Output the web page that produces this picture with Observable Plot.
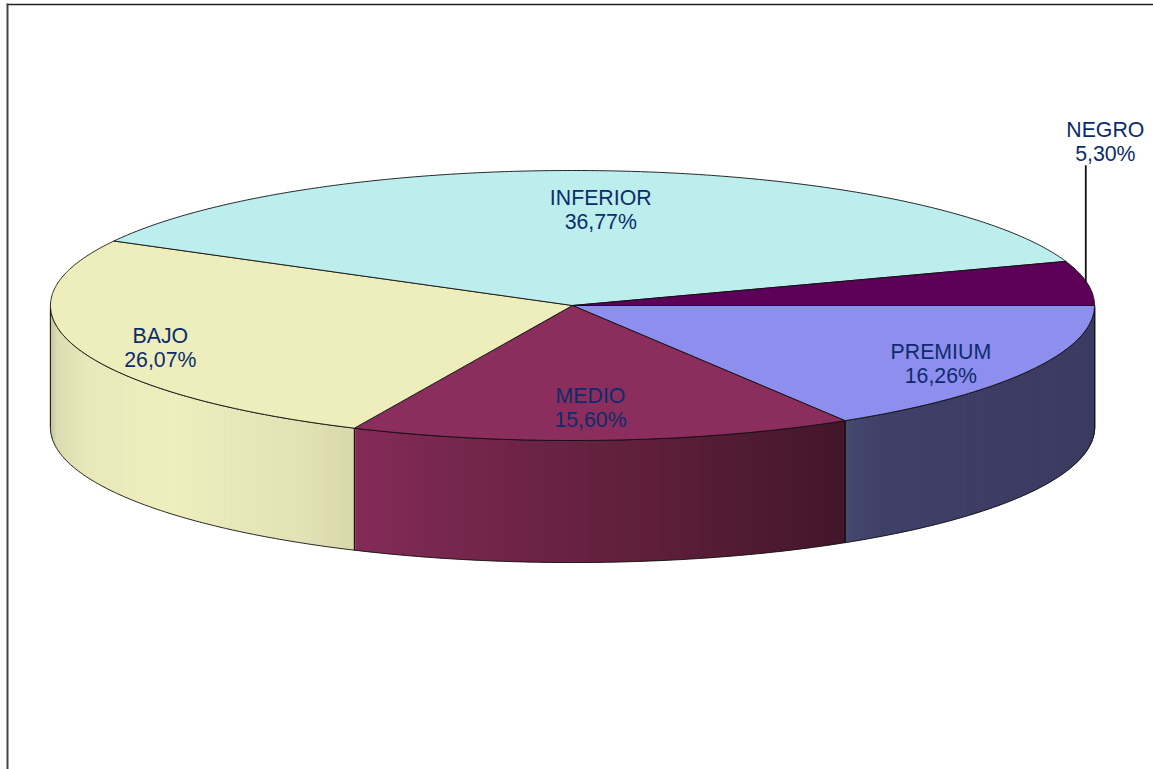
<!DOCTYPE html>
<html lang="es">
<head>
<meta charset="utf-8">
<script src="https://cdn.jsdelivr.net/npm/d3@7"></script>
<script src="https://cdn.jsdelivr.net/npm/@observablehq/plot@0.6"></script>
<style>
  html, body { margin: 0; padding: 0; background: #fff; }
  svg { display: block; }
</style>
</head>
<body>
<div id="chart"></div>
<script>
// Data, clockwise from the east of the pie
const categories = ["PREMIUM", "MEDIO", "BAJO", "INFERIOR", "NEGRO"];
const shares = [16.26, 15.60, 26.07, 36.77, 5.30];

// Styles
const topColors = ["#8e8eee", "#8b2e5e", "#eeeebd", "#bdeeee", "#5c0058"];
const wallStops = [
  [[0.525, "#46486f"], [0.59, "#3f4068"], [1, "#3c3b62"]],
  [[-0.415, "#842b57"], [-0.14, "#702548"], [0.15, "#5e1f3c"], [0.525, "#43162a"]],
  [[-1, "#c4c49f"], [-0.99, "#dcdcb2"], [-0.93, "#e8e8bb"], [-0.77, "#eeeebe"], [-0.67, "#e9e9bb"], [-0.52, "#e2e2b6"], [-0.415, "#d8d8ad"]]
];
const textColor = "#0c2c6c";
const depth = 0.904;               // wall height in units of the minor radius
const stripInset = 0.005;          // keeps the strip seams inside the outline
const labelRadii = [[0.81, 0.894], [0.6, 0.765], [0.831, 1.008], [0.667, 0.706], [1.036, 7.29]];
const leaderTop = 1.035;           // top of the NEGRO leader, same units

// Geometry derived from the shares
const rad = (pct) => (pct / 100) * 2 * Math.PI;
let cum = 0;
const slices = categories.map((name, i) => {
  const a0 = cum; cum += shares[i];
  return {name, i, share: shares[i], a0: rad(a0), a1: rad(cum), mid: rad(a0 + shares[i] / 2)};
});
const rim = (a, drop = 0) => ({x: Math.cos(a), y: -Math.sin(a) - drop});
const arc = (a0, a1, drop = 0, step = Math.PI / 360) => {
  const n = Math.max(1, Math.ceil((a1 - a0) / step));
  return d3.range(n + 1).map((k) => rim(a0 + ((a1 - a0) * k) / n, drop));
};

// Top faces
const topFaces = slices.flatMap((s) => {
  const pts = [{x: 0, y: 0}, ...arc(s.a0, s.a1), {x: 0, y: 0}];
  return pts.map((p) => ({...p, id: s.name, fill: topColors[s.i]}));
});

// Front walls, as thin shaded strips
const walls = slices.filter((s) => s.a0 < Math.PI).map((s) => ({...s, a1: Math.min(s.a1, Math.PI)}));
const wallStrips = walls.flatMap((s) => {
  const stops = wallStops[s.i];
  const shade = d3.scaleLinear().domain(stops.map((d) => d[0])).range(stops.map((d) => d[1])).clamp(true);
  const edges = arc(s.a0, s.a1, 0, Math.PI / 360);
  return edges.slice(1).flatMap((e, k) => {
    const p = edges[k];
    const fill = shade((p.x + e.x) / 2);
    const id = s.name + k;
    const low = depth - stripInset;
    return [p, e, {x: e.x, y: e.y - low}, {x: p.x, y: p.y - low}, p].map((q) => ({...q, id, fill}));
  });
});
const wallOutlines = walls.flatMap((s) => {
  const pts = [...arc(s.a0, s.a1), ...arc(s.a0, s.a1, depth).reverse()];
  pts.push(pts[0]);
  return pts.map((p) => ({...p, id: s.name}));
});

// Labels
const labels = slices.map((s) => ({
  x: Math.cos(s.mid) * labelRadii[s.i][0],
  y: -Math.sin(s.mid) * labelRadii[s.i][1],
  text: `${s.name}\n${s.share.toFixed(2).replace(".", ",")}%`
}));
const negro = slices[4];
const leader = [{x: Math.cos(negro.mid), y1: -Math.sin(negro.mid), y2: leaderTop}];

const plot = Plot.plot({
  width: 1153,
  height: 769,
  marginTop: 4,
  marginLeft: 7,
  marginRight: 0,
  marginBottom: 0,
  style: {background: "#fff"},
  x: {axis: null, domain: [-1, 1], range: [50, 1094]},
  y: {axis: null, domain: [-1, 1], range: [440, 170]},
  color: {type: "identity"},
  marks: [
    Plot.frame({anchor: "top", stroke: "#222", strokeWidth: 1.5}),
    Plot.frame({anchor: "left", stroke: "#444", strokeWidth: 2}),
    Plot.line(wallStrips, {x: "x", y: "y", z: "id", fill: "fill", stroke: "fill", strokeWidth: 1.5}),
    Plot.line(wallOutlines, {x: "x", y: "y", z: "id", stroke: "#111", strokeWidth: 0.9}),
    Plot.line(topFaces, {x: "x", y: "y", z: "id", fill: "fill", stroke: "#111", strokeWidth: 0.9}),
    Plot.ruleX(leader, {x: "x", y1: "y1", y2: "y2", dx: -1.5, stroke: "#111", strokeWidth: 1.8}),
    Plot.text(labels, {
      x: "x", y: "y", text: "text",
      dx: -0.5, dy: -1.5,
      fill: textColor,
      fontFamily: "Liberation Sans, Arial, sans-serif",
      fontSize: 21.3,
      lineHeight: 1.13,
      textAnchor: "middle",
      lineAnchor: "middle"
    })
  ]
});
document.getElementById("chart").append(plot);
</script>
</body>
</html>
